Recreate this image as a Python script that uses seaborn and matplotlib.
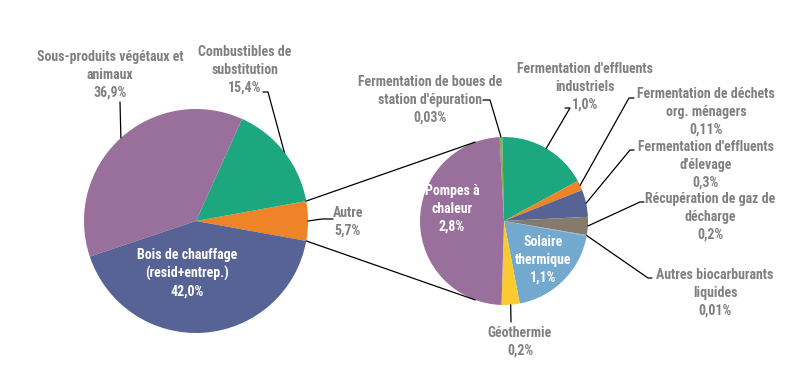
import matplotlib
matplotlib.use("Agg")
import matplotlib.pyplot as plt
import numpy as np
import seaborn as sns
from matplotlib import font_manager

# main pie (counter-clockwise from the "Autre" slice)
main_labels = ["Autre", "Combustibles de\nsubstitution",
               "Sous-produits végétaux et\nanimaux",
               "Bois de chauffage\n(resid+entrep.)"]
main_values = [5.7, 15.4, 36.9, 42.0]
main_pct = ["5,7%", "15,4%", "36,9%", "42,0%"]
main_colors = ["#EE8327", "#1CA77F", "#996F9B", "#566394"]

# secondary pie: breakdown of "Autre" (clockwise from the top)
sub_labels = ["Fermentation de boues de\nstation d'épuration",
              "Fermentation d'effluents\nindustriels",
              "Fermentation de déchets\norg. ménagers",
              "Fermentation d'effluents\nd'élevage",
              "Récupération de gaz de\ndécharge",
              "Autres biocarburants\nliquides",
              "Solaire\nthermique", "Géothermie", "Pompes à\nchaleur"]
sub_values = [0.03, 1.0, 0.11, 0.3, 0.2, 0.01, 1.1, 0.2, 2.8]
sub_pct = ["0,03%", "1,0%", "0,11%", "0,3%", "0,2%", "0,01%",
           "1,1%", "0,2%", "2,8%"]
sub_colors = ["#86B23F", "#1CA77F", "#EE8327", "#566394", "#857B6C",
              "#9AA5B8", "#73A8CF", "#F9CB31", "#996F9B"]

W, H = 800, 381
GREY = "#808080"

sns.set_theme(style="white")

# condensed bold face if there is one, else a narrow-ish fallback
installed = {f.name for f in font_manager.fontManager.ttflist}
font, fsize = "Liberation Sans", 8.2
for cand, size in [("Roboto Condensed", 10), ("Fira Sans Condensed", 9.8),
                   ("Liberation Sans Narrow", 10)]:
    if cand in installed:
        font, fsize = cand, size
        break
plt.rcParams["font.family"] = [font, "DejaVu Sans"]

fig = plt.figure(figsize=(8, 3.81), dpi=100)
ax = fig.add_axes([0, 0, 1, 1])


def up(p):
    # pixel coords (y down) -> axes coords (y up)
    return (p[0], H - p[1])


c1, r1 = up((196, 221)), 112
c2, r2 = up((504, 221)), 84

w1, _ = ax.pie(main_values, colors=main_colors, center=c1, radius=r1,
               startangle=-main_values[0] / sum(main_values) * 180,
               counterclock=True, wedgeprops=dict(linewidth=0),
               frame=True)
w2, _ = ax.pie(sub_values, colors=sub_colors, center=c2, radius=r2,
               startangle=93, counterclock=False,
               wedgeprops=dict(linewidth=0), frame=True)
ax.set_xlim(0, W)
ax.set_ylim(0, H)
ax.set_aspect("equal")
ax.axis("off")


def edge(center, r, ang):
    a = np.deg2rad(ang)
    return (center[0] + r * np.cos(a), center[1] + r * np.sin(a))


def mid(w):
    return (w.theta1 + w.theta2) / 2


# connector lines between the two pies
for t1, t2 in [(w1[0].theta2, 110), (w1[0].theta1, 250)]:
    a = edge(c1, r1, t1)
    b = edge(c2, r2, t2)
    ax.plot([a[0], b[0]], [a[1], b[1]], color="black", lw=0.9)


def label(txt, pos, color=GREY):
    x, y = up(pos)
    ax.text(x, y, txt, ha="center", va="center", fontsize=fsize,
            fontweight="bold", color=color, linespacing=1.35)


def leader(wedge, center, r, pts):
    pts = [up(p) for p in pts] + [edge(center, r, mid(wedge))]
    xs, ys = zip(*pts)
    ax.plot(xs, ys, color="black", lw=0.9)


# main pie labels
label(main_labels[2] + "\n" + main_pct[2], (110, 75))
leader(w1[2], c1, r1, [(120, 102)])
label(main_labels[1] + "\n" + main_pct[1], (245, 70))
leader(w1[1], c1, r1, [(263, 92), (268, 92)])
label(main_labels[0] + "\n" + main_pct[0], (348, 222))
leader(w1[0], c1, r1, [(333, 219), (322, 219)])
label(main_labels[3] + "\n" + main_pct[3], (187, 273), color="white")

# secondary pie labels
sub_layout = [
    ((430, 100), [(483, 100), (490, 100)]),
    ((585, 87), [(565, 108), (570, 108)]),
    ((706, 112), [(634, 98), (629, 98)]),
    ((706, 165), [(634, 150), (630, 150)]),
    ((710, 217), [(644, 202), (640, 202)]),
    ((715, 293), [(652, 278), (648, 278)]),
    ((543, 260), None),
    ((520, 342), [(511, 322)]),
    ((452, 209), None),
]
for i, (pos, pts) in enumerate(sub_layout):
    txt = sub_labels[i] + "\n" + sub_pct[i]
    if pts is None:
        label(txt, pos, color="white")
    else:
        label(txt, pos)
        leader(w2[i], c2, r2, pts)

fig.savefig("out.png", dpi=100)
